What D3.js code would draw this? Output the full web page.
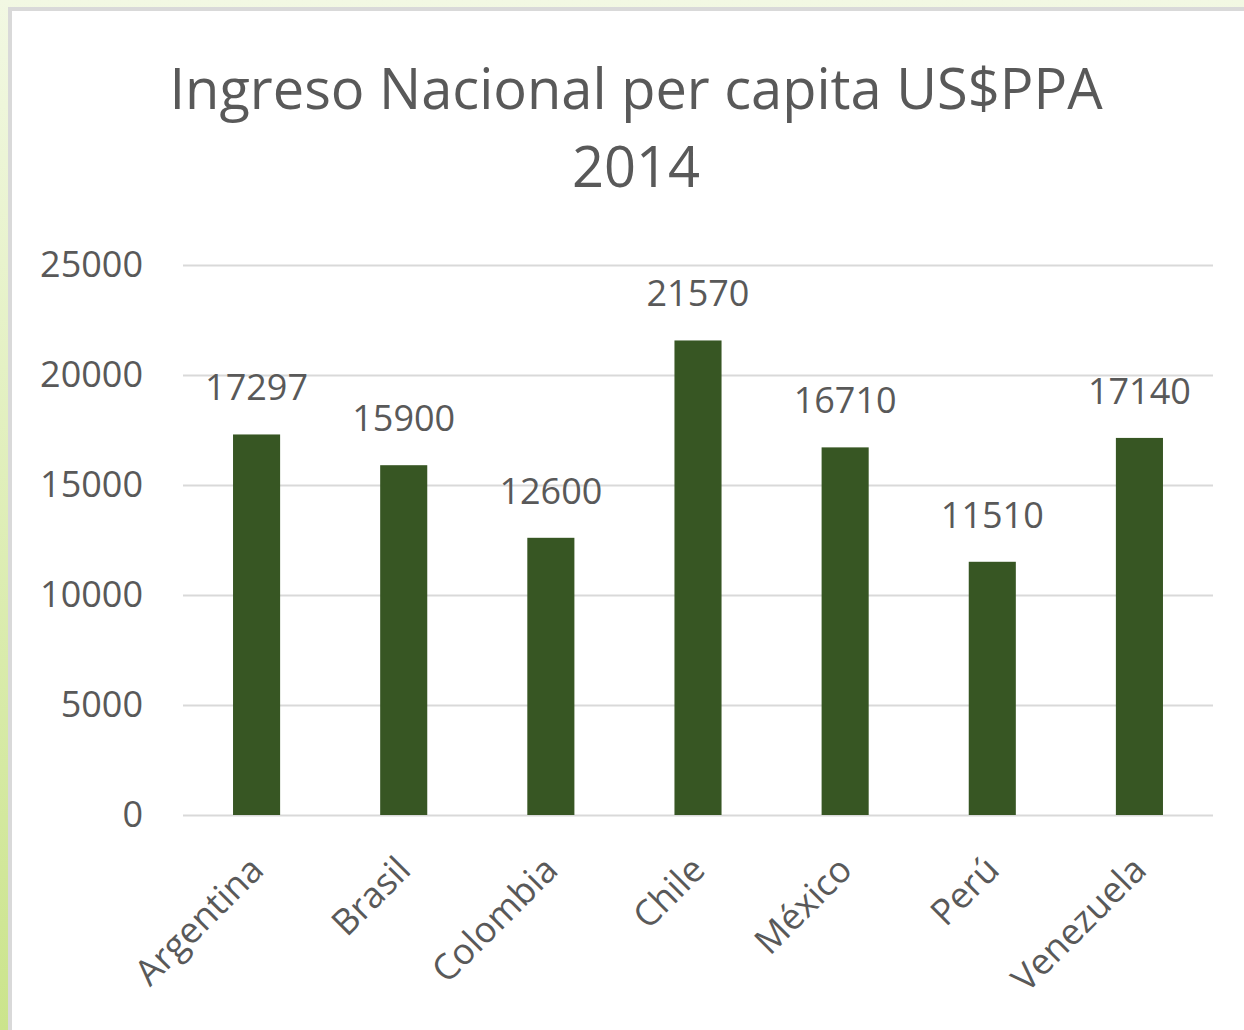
<!DOCTYPE html>
<html>
<head>
<meta charset="utf-8">
<script src="https://cdn.jsdelivr.net/npm/d3@7.9.0/dist/d3.min.js"></script>
<style>
  body { margin: 0; background: #fff; }
  svg { display: block; font-family: "Open Sans", sans-serif; }
</style>
</head>
<body>
<svg id="chart" width="1244" height="1030"></svg>
<script>
// --- data ---
const countries = ['Argentina', 'Brasil', 'Colombia', 'Chile', 'México', 'Perú', 'Venezuela'];
const incomes   = [17297, 15900, 12600, 21570, 16710, 11510, 17140];
const yTicks    = [0, 5000, 10000, 15000, 20000, 25000];
const titleLines = ['Ingreso Nacional per capita US$PPA', '2014'];

const W = 1244, H = 1030;
const plot = { left: 183, right: 1213, top: 265, bottom: 815 };
const textColor = '#595959';

const svg = d3.select('#chart');

// backdrop: light green frame + grey-bordered white panel
const defs = svg.append('defs');
const grad = defs.append('linearGradient')
  .attr('id', 'bg').attr('x1', 0).attr('y1', 0).attr('x2', 0).attr('y2', 1);
grad.append('stop').attr('offset', '0%').attr('stop-color', '#f2f8e3');
grad.append('stop').attr('offset', '100%').attr('stop-color', '#cbe48c');

svg.append('rect').attr('width', W).attr('height', H).attr('fill', 'url(#bg)');
svg.append('rect').attr('x', 8).attr('y', 7).attr('width', W).attr('height', H)
  .attr('fill', '#d9d9d9');
svg.append('rect').attr('x', 12).attr('y', 11).attr('width', W).attr('height', H)
  .attr('fill', '#ffffff');

// --- scales ---
const x = d3.scaleBand()
  .domain(countries)
  .range([plot.left, plot.right])
  .paddingInner(0.68)
  .paddingOuter(0.34);

const y = d3.scaleLinear()
  .domain([0, 25000])
  .range([plot.bottom, plot.top]);

// gridlines + y labels
const yAxis = svg.append('g')
  .attr('transform', `translate(${plot.left},0)`)
  .call(d3.axisLeft(y)
    .tickValues(yTicks)
    .tickFormat(d3.format('d'))
    .tickSize(-(plot.right - plot.left))
    .tickPadding(40));
yAxis.select('.domain').remove();
yAxis.selectAll('line').attr('stroke', '#d9d9d9').attr('stroke-width', 2);
yAxis.selectAll('text')
  .attr('fill', textColor)
  .style('font-size', '36px')
  .style('font-family', '"Open Sans", sans-serif');

// bars
const data = countries.map((c, i) => ({ country: c, value: incomes[i] }));

svg.append('g').selectAll('rect')
  .data(data)
  .join('rect')
  .attr('x', d => x(d.country))
  .attr('y', d => y(d.value))
  .attr('width', x.bandwidth())
  .attr('height', d => y(0) - y(d.value))
  .attr('fill', '#375623');

// value labels
svg.append('g').selectAll('text')
  .data(data)
  .join('text')
  .attr('x', d => x(d.country) + x.bandwidth() / 2)
  .attr('y', d => y(d.value) - 34)
  .attr('text-anchor', 'middle')
  .attr('fill', textColor)
  .style('font-size', '36px')
  .text(d => d.value);

// category axis (rotated)
const xAxis = svg.append('g')
  .attr('transform', `translate(0,${plot.bottom})`)
  .call(d3.axisBottom(x).tickSize(0));
xAxis.select('.domain').remove();
xAxis.selectAll('text')
  .attr('x', 0).attr('y', 0).attr('dy', 0)
  .attr('transform', 'translate(9,57) rotate(-45)')
  .attr('text-anchor', 'end')
  .attr('fill', textColor)
  .style('font-size', '36px')
  .style('font-family', '"Open Sans", sans-serif');

// title
svg.append('text')
  .attr('x', 636)
  .attr('y', 109)
  .attr('text-anchor', 'middle')
  .attr('fill', textColor)
  .style('font-size', '56px')
  .selectAll('tspan')
  .data(titleLines)
  .join('tspan')
  .attr('x', 636)
  .attr('dy', (d, i) => i === 0 ? 0 : 78)
  .text(d => d);
</script>
</body>
</html>
